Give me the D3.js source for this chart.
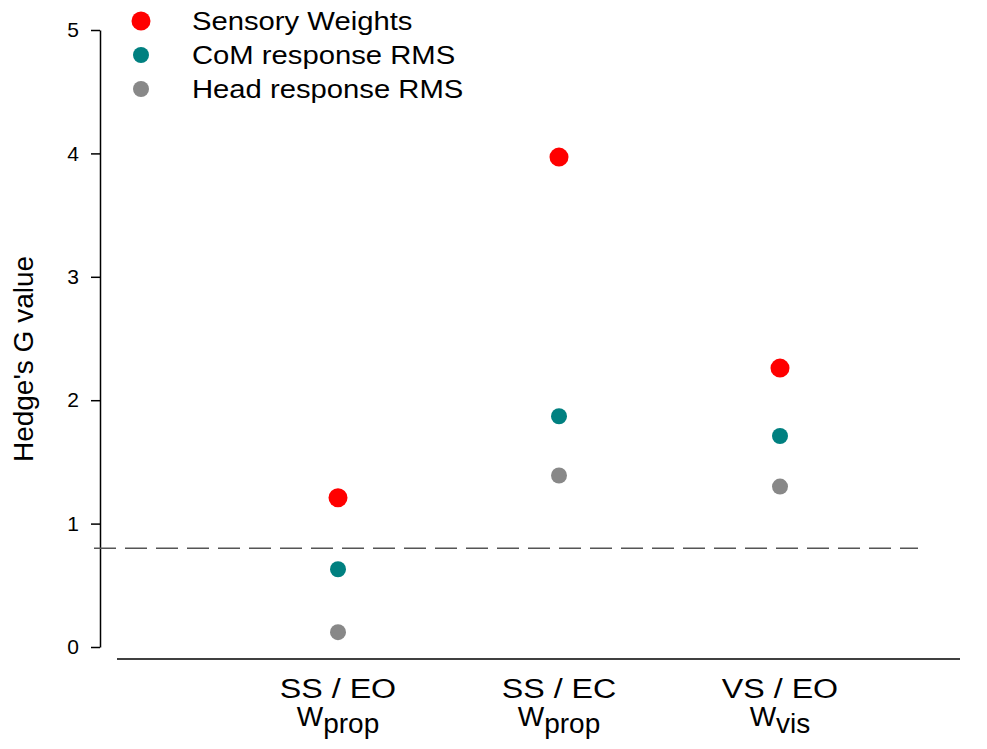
<!DOCTYPE html>
<html>
<head>
<meta charset="utf-8">
<script src="https://cdn.jsdelivr.net/npm/d3@7"></script>
<style>
  body { margin: 0; background: #fff; }
  text { font-family: Arial, "Liberation Sans", sans-serif; fill: #000; }
</style>
</head>
<body>
<svg id="chart" width="987" height="749"></svg>
<script>
// data
const categories = ['SS / EO', 'SS / EC', 'VS / EO'];
const subLabels = ['prop', 'prop', 'vis'];
const seriesNames = ['Sensory Weights', 'CoM response RMS', 'Head response RMS'];
const seriesColors = ['#ff0000', '#008080', '#888888'];
const sensoryWeights = [1.21, 3.97, 2.26];
const comRms = [0.63, 1.87, 1.71];
const headRms = [0.12, 1.39, 1.30];
const yTicks = [0, 1, 2, 3, 4, 5];
const threshold = 0.8;

const svg = d3.select('#chart');

const y = d3.scaleLinear().domain([0, 5]).range([647, 30]);
const x = d3.scalePoint().domain(categories).range([338, 780]);

// y axis
const yAxis = svg.append('g')
    .attr('transform', 'translate(100,0)')
    .call(d3.axisLeft(y).tickValues(yTicks).tickFormat(d3.format('d'))
        .tickSize(9).tickSizeOuter(0).tickPadding(12));
yAxis.select('.domain').attr('stroke', '#000').attr('stroke-width', 1.5);
yAxis.selectAll('.tick line').attr('stroke', '#000').attr('stroke-width', 1.5);
yAxis.selectAll('.tick text')
    .attr('font-family', 'Arial, "Liberation Sans", sans-serif')
    .style('font-size', '21px')
    .attr('fill', '#000');

// x axis line (no ticks)
svg.append('line')
    .attr('x1', 117).attr('x2', 960)
    .attr('y1', 659).attr('y2', 659)
    .attr('stroke', '#000').attr('stroke-width', 1.5);

// x labels
const xl = svg.append('g');
categories.forEach(function (c, i) {
    xl.append('text')
        .attr('transform', 'translate(' + x(c) + ',698) scale(1.15,1)')
        .attr('text-anchor', 'middle')
        .style('font-size', '28px')
        .text(c);
    const t = xl.append('text')
        .attr('x', x(c)).attr('y', 726)
        .attr('text-anchor', 'middle')
        .style('font-size', '28px');
    t.append('tspan').text('W');
    t.append('tspan').attr('dy', 7).text(subLabels[i]);
});

// y label
svg.append('text')
    .attr('transform', 'translate(33,359) rotate(-90)')
    .attr('text-anchor', 'middle')
    .style('font-size', '28px')
    .text("Hedge's G value");

// threshold dashed line
svg.append('line')
    .attr('x1', 94).attr('x2', 918)
    .attr('y1', y(threshold)).attr('y2', y(threshold))
    .attr('stroke', '#555').attr('stroke-width', 1.5)
    .attr('stroke-dasharray', '22,9');

// points
const series = [sensoryWeights, comRms, headRms];
const radii = [9.5, 8, 8];
series.forEach(function (vals, s) {
    svg.append('g').selectAll('circle')
        .data(vals)
        .enter().append('circle')
        .attr('cx', function (d, i) { return x(categories[i]); })
        .attr('cy', function (d) { return y(d); })
        .attr('r', radii[s])
        .attr('fill', seriesColors[s]);
});

// legend
const leg = svg.append('g').attr('transform', 'translate(141,21)');
seriesNames.forEach(function (n, i) {
    const row = leg.append('g').attr('transform', 'translate(0,' + (i * 34) + ')');
    row.append('circle').attr('r', radii[i]).attr('fill', seriesColors[i]);
    row.append('text')
        .attr('transform', 'translate(51,9) scale(1.17,1)')
        .style('font-size', '25px')
        .text(n);
});
</script>
</body>
</html>
